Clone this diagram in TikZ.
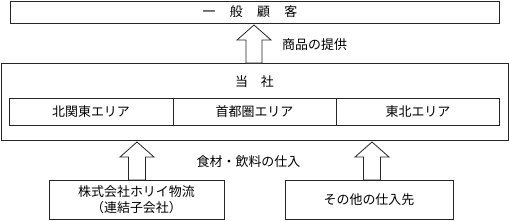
\documentclass[tikz,border=0pt]{standalone}
\usepackage{fontspec}
\setmainfont{Noto Sans CJK JP}
\begin{document}
\begin{tikzpicture}[x=1bp,y=-1bp,
  box/.style={draw=black!85,line width=0.8bp,inner sep=0pt},
  lbl/.style={font=\fontsize{13}{15.5}\selectfont,inner sep=0pt},
  barrow/.style={draw=black!85,line width=0.8bp,fill=white,line join=miter}]
\useasboundingbox (0,0) rectangle (509,220);
% top box
\draw[box] (10,1) rectangle (499,23);
\node[lbl] (cust) at (250,12) {一\hspace{1.1em}般\hspace{1.1em}顧\hspace{1.1em}客};
% company box
\draw[box] (1,63) rectangle (508,140);
\node[lbl] (co) at (254.5,82) {当\hspace{1em}社};
\draw[box] (9.5,98) rectangle (499.5,125);
\draw[box] (173,98) -- (173,125);
\draw[box] (336,98) -- (336,125);
\node[lbl] (a1) at (91,111.5) {北関東エリア};
\node[lbl] (a2) at (254.5,111.5) {首都圏エリア};
\node[lbl] (a3) at (418,111.5) {東北エリア};
% arrow up to customers
\draw[barrow] (246,63) -- (246,40) -- (237,40) -- (254,25) -- (271,40) -- (262,40) -- (262,63) -- cycle;
\node[lbl,anchor=west] (p1) at (282,45) {商品の提供};
% lower arrows
\draw[barrow] (128.5,180) -- (128.5,157) -- (120,157) -- (137,142) -- (154,157) -- (145.5,157) -- (145.5,180) -- cycle;
\draw[barrow] (363.5,180) -- (363.5,157) -- (355,157) -- (372,142) -- (389,157) -- (380.5,157) -- (380.5,180) -- cycle;
\node[lbl] (p2) at (248.5,162) {食材・飲料の仕入};
% bottom boxes
\draw[box] (49,180) rectangle (224,219);
\node[lbl,align=center] (s1) at (136.5,199.5) {株式会社ホリイ物流\\（連結子会社）};
\draw[box] (285,180) rectangle (453,219);
\node[lbl] (s2) at (369,199.5) {その他の仕入先};
\end{tikzpicture}
\end{document}
